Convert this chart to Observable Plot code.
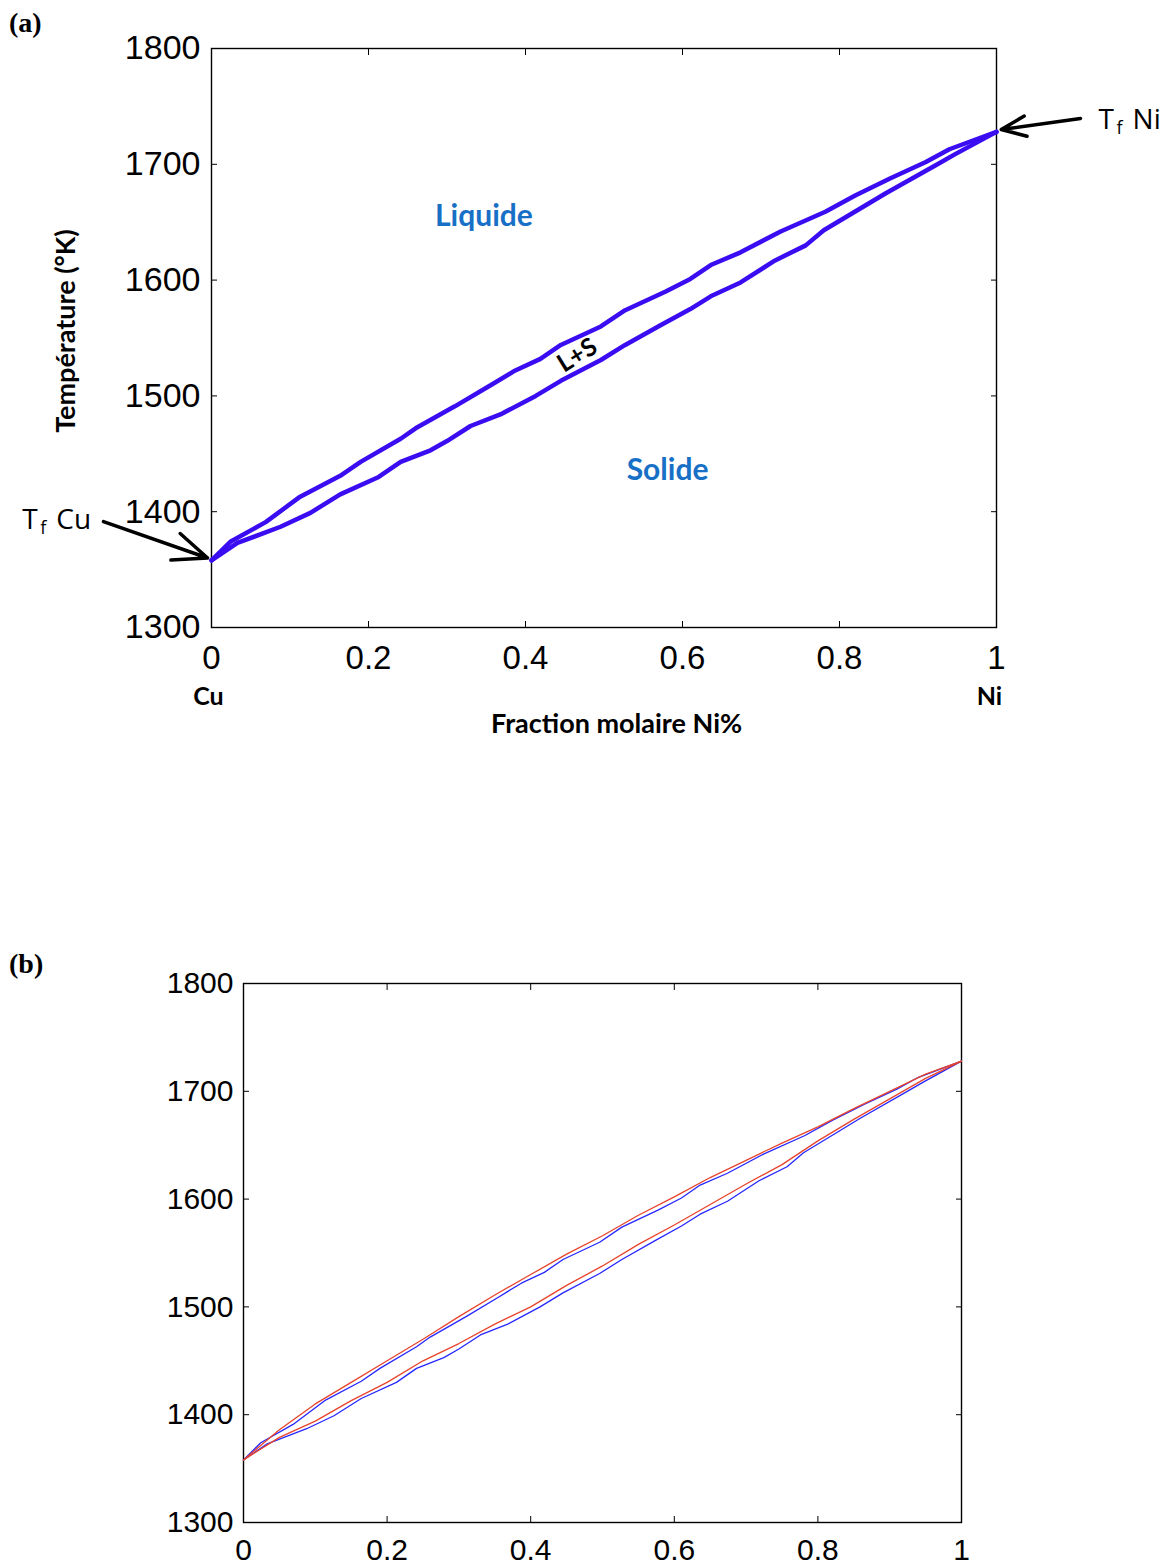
<!DOCTYPE html>
<html><head><meta charset="utf-8">
<script src="https://cdn.jsdelivr.net/npm/d3@7"></script>
<script src="https://cdn.jsdelivr.net/npm/@observablehq/plot@0.6"></script>
<style>
body{margin:0;background:#fff;width:1174px;height:1564px;position:relative;overflow:hidden}
.panel{position:absolute;left:0;z-index:1}
.tag{position:absolute;z-index:5;font-family:"Liberation Serif";font-weight:bold;font-size:28px;line-height:1;color:#000}
</style></head><body>
<div class="tag" style="left:9px;top:9px">(a)</div>
<div id="a" class="panel" style="top:0"></div>
<div class="tag" style="left:9px;top:950px">(b)</div>
<div id="b" class="panel" style="top:900px"></div>
<script>
// ---- data ----
const liqX = [0, 0.024, 0.069, 0.113, 0.164, 0.19, 0.241, 0.26, 0.31, 0.355, 0.387, 0.419, 0.445, 0.496, 0.527, 0.578, 0.61, 0.636, 0.674, 0.725, 0.782, 0.82, 0.865, 0.91, 0.94, 1];
const liqT = [1358, 1374, 1391, 1413, 1431, 1443, 1463, 1472, 1491, 1509, 1522, 1532, 1544, 1560, 1574, 1590, 1601, 1613, 1624, 1642, 1659, 1673, 1688, 1702, 1713, 1728];
const solX = [0, 0.033, 0.088, 0.126, 0.164, 0.213, 0.241, 0.279, 0.3, 0.33, 0.368, 0.413, 0.445, 0.496, 0.527, 0.572, 0.61, 0.636, 0.674, 0.718, 0.757, 0.78, 0.827, 0.859, 0.922, 0.948, 1];
const solT = [1358, 1373, 1387, 1399, 1415, 1430, 1443, 1453, 1461, 1474, 1484, 1500, 1513, 1531, 1544, 1561, 1575, 1586, 1598, 1617, 1630, 1643, 1662, 1675, 1699, 1709, 1728];
// second model (red, panel b)
const redX = [0, 0.05, 0.1, 0.15, 0.2, 0.25, 0.3, 0.35, 0.4, 0.45, 0.5, 0.55, 0.6, 0.65, 0.7, 0.75, 0.8, 0.85, 0.9, 0.95, 1];
const redLiqT = [1358, 1386, 1410, 1430, 1450, 1470, 1491, 1511, 1530, 1549, 1566, 1585, 1602, 1620, 1636, 1652, 1667, 1684, 1700, 1716, 1728];
const redSolT = [1358, 1379, 1394, 1413, 1430, 1450, 1466, 1484, 1500, 1520, 1538, 1558, 1576, 1595, 1614, 1632, 1654, 1674, 1693, 1712, 1728];

const xTicks = [0, 0.2, 0.4, 0.6, 0.8, 1];
const xTickLabels = ["0", "0.2", "0.4", "0.6", "0.8", "1"];
const yTicks = [1300, 1400, 1500, 1600, 1700, 1800];
const yTickLabels = ["1300", "1400", "1500", "1600", "1700", "1800"];

// annotations (data coordinates)
const regionLabels = ["Liquide", "Solide"];
const regionX = [0.347, 0.581];
const regionT = [1655, 1436];
const twoPhaseLabel = ["L+S"];
const twoPhaseX = [0.466];
const twoPhaseT = [1535];
const endLabels = ["Cu", "Ni"];
const endX = [-0.004, 0.991];
const endT = [1240, 1240];
const meltNames = ["Ni", "Cu"];
const meltX = [1.13, -0.241];
const meltT = [1738, 1393];
const arrowX1 = [1.107, -0.1376];
const arrowT1 = [1739.6, 1391.5];
const arrowX2 = [1.006, -0.005];
const arrowT2 = [1730, 1360];
const xLabelA = ["Fraction molaire Ni%"];
const xLabelPos = [0.516, 1216];
const yLabelA = ["Température (°K)"];
const yLabelPos = [-0.1847, 1556];

const liq = liqX.map((x, i) => ({x, T: liqT[i]}));
const sol = solX.map((x, i) => ({x, T: solT[i]}));
const redLiq = redX.map((x, i) => ({x, T: redLiqT[i]}));
const redSol = redX.map((x, i) => ({x, T: redSolT[i]}));
const fx = d => xTickLabels[xTicks.indexOf(d)];
const fy = d => yTickLabels[yTicks.indexOf(d)];

const boldFont = "Lato";
const blueA = "#3a0cf2";

function frameAxes(fsY, fsX, padY, padX) {
  return [
    Plot.axisY({anchor: "left", ticks: yTicks, tickFormat: fy, tickSize: -6, tickPadding: padY, fontSize: fsY, label: null}),
    Plot.axisX({anchor: "bottom", ticks: xTicks, tickFormat: fx, tickSize: -6, tickPadding: padX, fontSize: fsX, label: null}),
    Plot.axisX({anchor: "top", ticks: xTicks, tickFormat: () => "", tickSize: -6, label: null}),
    Plot.axisY({anchor: "right", ticks: yTicks, tickFormat: () => "", tickSize: -6, label: null}),
    Plot.frame({stroke: "#000", strokeWidth: 1.4})
  ];
}

const arrows = arrowX1.map((x1, i) => ({x1, y1: arrowT1[i], x2: arrowX2[i], y2: arrowT2[i]}));
const melts = meltNames.map((n, i) => ({n, x: meltX[i], T: meltT[i]}));

const chartA = Plot.plot({
  width: 1174, height: 760,
  marginLeft: 211, marginRight: 178, marginTop: 48, marginBottom: 133,
  x: {domain: [0, 1]},
  y: {domain: [1300, 1800]},
  style: {fontFamily: "Liberation Sans", color: "#000", background: "transparent", overflow: "visible"},
  marks: [
    ...frameAxes(34, 33, 17, 24),
    Plot.line(liq, {x: "x", y: "T", stroke: blueA, strokeWidth: 4.5, strokeLinejoin: "round"}),
    Plot.line(sol, {x: "x", y: "T", stroke: blueA, strokeWidth: 4.5, strokeLinejoin: "round"}),
    Plot.text(regionLabels, {x: (d, i) => regionX[i], y: (d, i) => regionT[i], text: d => d, fill: "#1870c6", fontSize: 30, fontWeight: "bold", fontFamily: boldFont}),
    Plot.text(twoPhaseLabel, {x: (d, i) => twoPhaseX[i], y: (d, i) => twoPhaseT[i], text: d => d, fill: "#000", fontSize: 25, fontWeight: "bold", fontFamily: boldFont, rotate: -32}),
    Plot.text(endLabels, {x: (d, i) => endX[i], y: (d, i) => endT[i], text: d => d, fill: "#000", fontSize: 25, fontWeight: "bold", fontFamily: boldFont}),
    Plot.text(xLabelA, {x: () => xLabelPos[0], y: () => xLabelPos[1], text: d => d, fill: "#000", fontSize: 27, fontWeight: "bold", fontFamily: boldFont, letterSpacing: 1}),
    Plot.text(yLabelA, {x: () => yLabelPos[0], y: () => yLabelPos[1], text: d => d, fill: "#000", fontSize: 27, fontWeight: "bold", fontFamily: boldFont, rotate: -90, letterSpacing: 1.5}),
    Plot.arrow(arrows, {x1: "x1", y1: "y1", x2: "x2", y2: "y2", stroke: "#000", strokeWidth: 3.5, headLength: 22, headAngle: 45}),
    Plot.text(melts, {x: "x", y: "T", text: () => "T", textAnchor: "start", fontSize: 28, fontFamily: "Open Sans", fill: "#000"}),
    Plot.text(melts, {x: "x", y: "T", text: () => "f", textAnchor: "start", dx: 18, dy: 8, fontSize: 18, fontFamily: "Open Sans", fill: "#000"}),
    Plot.text(melts, {x: "x", y: "T", text: "n", textAnchor: "start", dx: 34, fontSize: 28, fontFamily: "Open Sans", fill: "#000"})
  ]
});
document.getElementById("a").appendChild(chartA);

const chartB = Plot.plot({
  width: 1174, height: 664,
  marginLeft: 243, marginRight: 213, marginTop: 83, marginBottom: 42,
  x: {domain: [0, 1]},
  y: {domain: [1300, 1800]},
  style: {fontFamily: "Liberation Sans", color: "#000", background: "transparent", overflow: "visible"},
  marks: [
    ...frameAxes(30, 30, 16, 22),
    Plot.line(liq, {x: "x", y: "T", stroke: "#2626ff", strokeWidth: 1.3}),
    Plot.line(sol, {x: "x", y: "T", stroke: "#2626ff", strokeWidth: 1.3}),
    Plot.line(redLiq, {x: "x", y: "T", stroke: "#e8432b", strokeWidth: 1.3}),
    Plot.line(redSol, {x: "x", y: "T", stroke: "#e8432b", strokeWidth: 1.3})
  ]
});
document.getElementById("b").appendChild(chartB);
</script>
</body></html>
